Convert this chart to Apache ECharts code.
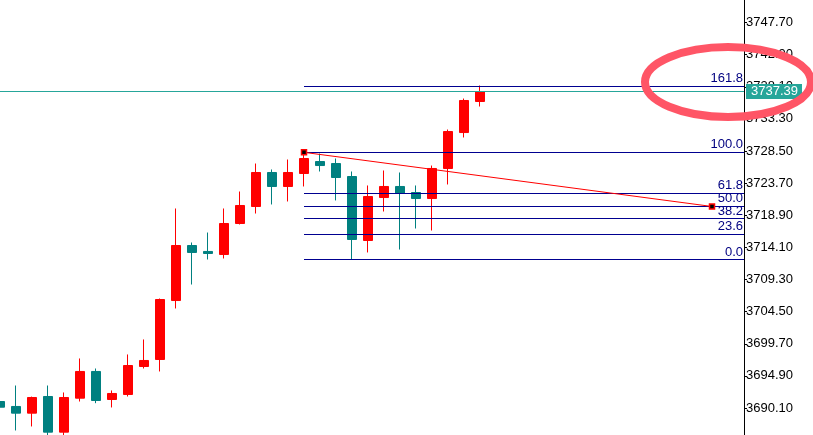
<!DOCTYPE html>
<html>
<head>
<meta charset="utf-8">
<script src="https://cdn.jsdelivr.net/npm/echarts@6/dist/echarts.min.js"></script>
<style>html,body{margin:0;padding:0;background:#fff;}#c{width:813px;height:435px;}</style>
</head>
<body>
<div id="c"></div>
<script>
// ---- data ----
const barIndex = [0,1,2,3,4,5,6,7,8,9,10,11,12,13,14,15,16,17,18,19,20,21,22,23,24,25,26,27,28,29,30];
const opens  = [3691.07,3690.33,3689.33,3691.82,3686.49,3691.57,3695.56,3691.37,3692.12,3696.30,3697.35,3706.16,3714.38,3713.49,3713.04,3717.67,3720.21,3725.29,3723.20,3725.14,3726.93,3726.63,3724.69,3715.13,3721.55,3723.20,3722.30,3721.40,3725.89,3731.26,3735.90];
const closes = [3690.22,3689.33,3691.67,3686.49,3691.67,3695.56,3691.22,3692.27,3696.45,3697.20,3706.31,3714.38,3713.34,3713.19,3717.67,3720.36,3725.29,3723.20,3725.29,3727.38,3726.33,3724.54,3715.28,3721.70,3723.20,3722.15,3721.40,3725.89,3731.41,3736.05,3737.39];
const lows   = [3687.08,3686.74,3687.34,3686.04,3685.60,3691.07,3690.82,3690.18,3691.82,3696.00,3695.56,3704.97,3708.55,3712.29,3712.44,3717.52,3719.16,3720.51,3720.96,3723.20,3725.44,3721.11,3712.29,3713.34,3719.46,3713.78,3716.92,3716.62,3723.50,3730.52,3735.15];
const highs  = [3696.95,3693.46,3691.80,3693.46,3692.42,3697.50,3696.00,3692.72,3698.10,3700.34,3706.46,3719.91,3714.83,3716.32,3719.91,3722.45,3726.63,3725.74,3727.23,3728.30,3728.13,3727.38,3725.44,3723.35,3725.59,3725.29,3723.35,3726.33,3731.71,3736.34,3738.29];
const xRange = [0, 46.5];          // visible bar range (incl. empty future)
const yTicks = [3690.10,3694.90,3699.70,3704.50,3709.30,3714.10,3718.90,3723.70,3728.50,3733.30,3738.10,3742.90,3747.70];
const yRange = [3686.065, 3751.065];
const fibLevels = [0.0, 23.6, 38.2, 50.0, 61.8, 100.0, 161.8];
const fibLow = 3712.29, fibHigh = 3728.30, fibStartBar = 19;
const trendPoints = [[19, 3728.30], [44.5, 3720.21]];
const lastPrice = 3737.39;

// ---- build ----
const FONT = 'Liberation Sans, Arial, sans-serif';
const candleData = barIndex.map((x, i) => [x, opens[i], closes[i], lows[i], highs[i]]);
const fibLines = fibLevels.map(l => {
  const p = fibLow + (fibHigh - fibLow) * l / 100;
  return [
    {coord: [fibStartBar, p], label: {formatter: l.toFixed(1)}},
    {coord: [xRange[1], p]}
  ];
});

const chart = echarts.init(document.getElementById('c'), null, {renderer: 'canvas'});
chart.setOption({
  animation: false,
  backgroundColor: '#ffffff',
  grid: {left: 0, right: 69, top: 0, bottom: 0},
  xAxis: [{type: 'value', min: xRange[0], max: xRange[1], show: false}],
  yAxis: [{
    type: 'value', position: 'right', min: yRange[0], max: yRange[1], scale: true,
    axisLine: {show: true, onZero: false, lineStyle: {color: '#000', width: 1}},
    axisTick: {show: true, length: 3, lineStyle: {color: '#000'}, customValues: yTicks},
    axisLabel: {show: true, margin: 2, color: '#000', fontSize: 13, fontFamily: FONT,
      customValues: yTicks, formatter: v => v.toFixed(2)},
    splitLine: {show: false}
  }],
  series: [
    {
      type: 'candlestick',
      data: candleData,
      encode: {x: 0, y: [1, 2, 3, 4]},
      barWidth: 10,
      clip: true,
      itemStyle: {color: '#ff0000', color0: '#008080', borderColor: '#ff0000', borderColor0: '#008080', borderWidth: 1},
      markLine: {
        silent: true, symbol: ['none', 'none'],
        lineStyle: {color: '#26a69a', width: 1, type: 'solid'},
        label: {show: true, position: 'end', distance: 2, formatter: p => p.value.toFixed(2),
          color: '#ffffff', backgroundColor: '#26a69a', padding: [1, 4, 0, 5], lineHeight: 14,
          fontSize: 13, fontFamily: FONT},
        emphasis: {disabled: true},
        data: [{yAxis: lastPrice}]
      }
    },
    {
      type: 'line',
      data: trendPoints,
      lineStyle: {color: '#ff0000', width: 1},
      symbol: 'rect', symbolSize: 5, showAllSymbol: true,
      itemStyle: {color: '#000000', borderColor: '#ff0000', borderWidth: 1.5},
      z: 5,
      markLine: {
        silent: true, symbol: ['none', 'none'],
        lineStyle: {color: '#000090', width: 1, type: 'solid'},
        label: {show: true, position: 'insideEndTop', distance: 1, color: '#000080', fontSize: 13, fontFamily: FONT},
        emphasis: {disabled: true},
        data: fibLines
      }
    }
  ],
  graphic: [{
    type: 'ellipse', z: 100,
    shape: {cx: 728, cy: 82, rx: 83, ry: 35},
    style: {fill: 'none', stroke: '#ff5566', lineWidth: 8}
  }]
});
</script>
</body>
</html>
